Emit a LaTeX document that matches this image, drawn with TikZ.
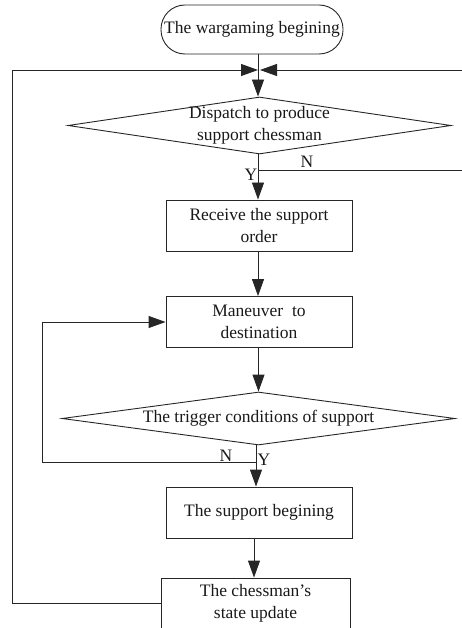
\documentclass[tikz,border=0pt]{standalone}
\usepackage{fontspec}
\setmainfont{Liberation Serif}
\usetikzlibrary{shapes.geometric,arrows.meta}
\begin{document}
\begin{tikzpicture}[x=1pt,y=-1pt,
  every node/.style={font=\fontsize{17.5}{21.5}\selectfont, align=center, text=black!90},
  box/.style={draw=black!85, line width=0.9pt, rectangle, inner sep=0pt, minimum width=186pt, minimum height=51pt},
  term/.style={draw=black!85, line width=0.9pt, rectangle, rounded corners=24pt, inner sep=0pt, minimum width=182pt, minimum height=49pt},
  dia/.style={draw=black!85, line width=0.9pt, diamond, aspect=1, inner sep=0pt},
  flow/.style={draw=black!85, line width=0.9pt},
  arr/.style={flow, -{Triangle[length=17pt,width=12pt]}},
  lbl/.style={inner sep=0pt}]
\clip (0,0) rectangle (462,628);
% nodes
\node[term] (start) at (252,29.5) {The wargaming begining};
\node[dia, minimum width=383pt, minimum height=57pt] (d1) at (259.5,125.5) {};
\node (d1t) at (259.5,125.5) {Dispatch to produce\\support chessman};
\node[box] (b1) at (259,225.5) {Receive the support\\order};
\node[box] (b2) at (259,322) {Maneuver\ \ to\\destination};
\node[dia, minimum width=393pt, minimum height=53pt] (d2) at (258.5,418.5) {};
\node (d2t) at (258.5,418.5) {The trigger conditions of support};
\node[box] (b3) at (259,512.5) {The support begining};
\node[box, minimum width=189pt] (b4) at (255.5,603.5) {The chessman's\\state update};
% coordinates
\coordinate (m) at (258,70);
\coordinate (mr) at (260,70);
\coordinate (re) at (470,70);
\coordinate (n1) at (258,170);
\coordinate (n1e) at (470,170);
\coordinate (n2) at (256,462);
\coordinate (lp) at (42,462);
\coordinate (c3) at (254,560);
\coordinate (fb) at (12,603.5);
% connectors
\draw[flow] (start.south -| m) -- (m);
\draw[arr] (m) -- (m |- d1.north);
\draw[arr] (re) -- (mr);
\draw[arr] (b4.west) -- (fb) |- (m);
\draw[flow] (n1) -- (n1e);
\draw[arr] (d1.south -| n1) -- (b1.north -| n1);
\draw[arr] (b1.south -| n1) -- (b2.north -| n1);
\draw[arr] (b2.south -| d2.north) -- (d2.north);
\draw[arr] (d2.south -| n2) -- (b3.north -| n2);
\draw[arr] (n2) -- (lp) |- (b2.west);
\draw[arr] (b3.south -| c3) -- (b4.north -| c3);
% labels
\node[lbl] (ln1) at (307,162) {N};
\node[lbl] (ly1) at (251,175) {Y};
\node[lbl] (ln2) at (226,456) {N};
\node[lbl] (ly2) at (264,460) {Y};
\end{tikzpicture}
\end{document}
